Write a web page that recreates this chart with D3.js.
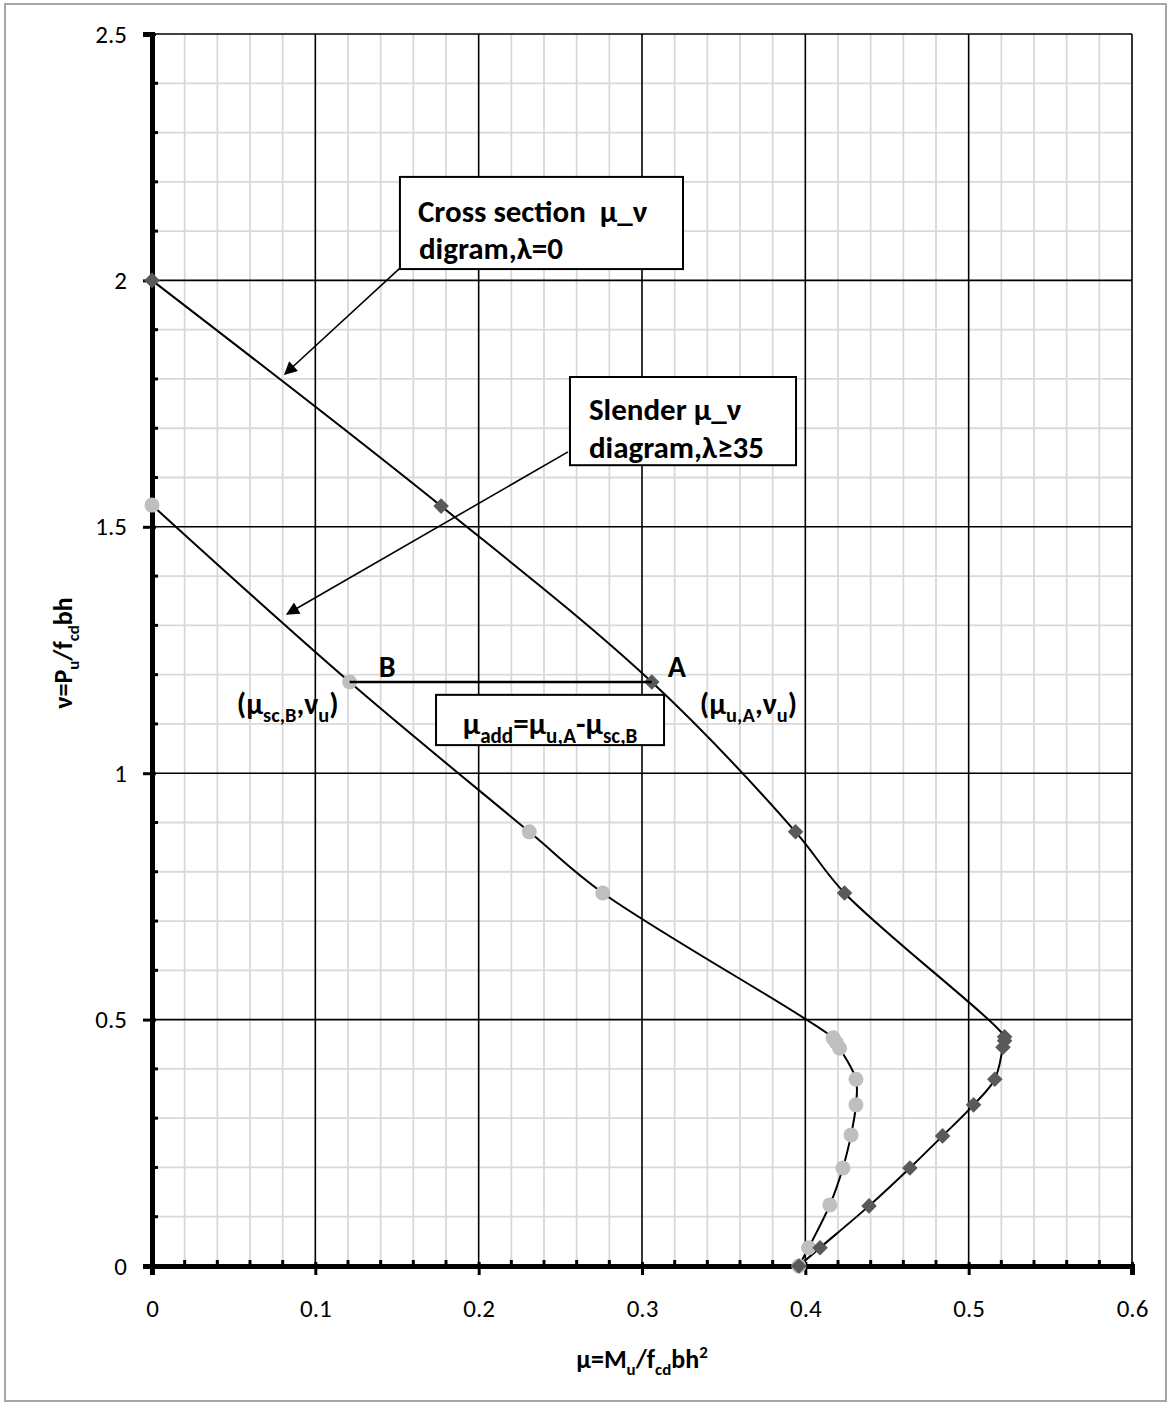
<!DOCTYPE html>
<html><head><meta charset="utf-8">
<script src="https://cdn.jsdelivr.net/npm/d3@7"></script>
<style>
body{margin:0;background:#fff;}
svg{display:block;font-family:Carlito,Lato,"Open Sans",sans-serif;}
</style></head><body>
<svg id="chart" width="1172" height="1406"></svg>
<script>
// μ–ν interaction diagram: cross-section curve (λ=0) and slender column curve (λ≥35)
const crossMu = [0, 0.177, 0.306, 0.394, 0.424, 0.522, 0.522, 0.521, 0.516, 0.503, 0.484, 0.464, 0.439, 0.409, 0.396];
const crossNu = [2.0, 1.542, 1.185, 0.881, 0.757, 0.465, 0.457, 0.444, 0.379, 0.327, 0.264, 0.199, 0.122, 0.037, 0];
const slenderMu = [0, 0.121, 0.231, 0.276, 0.417, 0.419, 0.421, 0.431, 0.431, 0.428, 0.423, 0.415, 0.402, 0.396];
const slenderNu = [1.544, 1.185, 0.881, 0.757, 0.463, 0.453, 0.442, 0.379, 0.327, 0.266, 0.199, 0.124, 0.037, 0];
const xTickValues = [0, 0.1, 0.2, 0.3, 0.4, 0.5, 0.6];
const xTickLabels = ["0", "0.1", "0.2", "0.3", "0.4", "0.5", "0.6"];
const yTickValues = [0, 0.5, 1, 1.5, 2, 2.5];
const yTickLabels = ["0", "0.5", "1", "1.5", "2", "2.5"];
// Points A (cross section) and B (slender) at the same axial load
const idxA = 2, idxB = 1;

const svg = d3.select("#chart");
const W = 1172, H = 1406;
const x = d3.scaleLinear().domain([0, 0.6]).range([152, 1132]);
const y = d3.scaleLinear().domain([0, 2.5]).range([1266, 34]);

svg.append("rect").attr("width", W).attr("height", H).attr("fill", "#fff");
svg.append("rect").attr("x", 5).attr("y", 4).attr("width", 1161).attr("height", 1397)
  .attr("fill", "none").attr("stroke", "#a6a6a6").attr("stroke-width", 2);

// grid
const minorX = d3.range(0, 0.6001, 0.02).filter(v => Math.abs(v * 10 - Math.round(v * 10)) > 1e-6);
const minorY = d3.range(0, 2.5001, 0.1).filter(v => Math.abs(v * 2 - Math.round(v * 2)) > 1e-6);
const grid = svg.append("g");
grid.selectAll(".mx").data(minorX).join("line")
  .attr("x1", d => x(d)).attr("x2", d => x(d)).attr("y1", y(0)).attr("y2", y(2.5))
  .attr("stroke", "#d9d9d9").attr("stroke-width", 1.8);
grid.selectAll(".my").data(minorY).join("line")
  .attr("x1", x(0)).attr("x2", x(0.6)).attr("y1", d => y(d)).attr("y2", d => y(d))
  .attr("stroke", "#d9d9d9").attr("stroke-width", 1.8);
grid.selectAll(".gx").data(xTickValues.slice(1)).join("line")
  .attr("x1", d => x(d)).attr("x2", d => x(d)).attr("y1", y(0)).attr("y2", y(2.5))
  .attr("stroke", "#000").attr("stroke-width", 1.6);
grid.selectAll(".gy").data(yTickValues.slice(1)).join("line")
  .attr("x1", x(0)).attr("x2", x(0.6)).attr("y1", d => y(d)).attr("y2", d => y(d))
  .attr("stroke", "#000").attr("stroke-width", 1.6);

// axes
const ax = svg.append("g");
ax.selectAll(".tmx").data(minorX).join("line")
  .attr("x1", d => x(d)).attr("x2", d => x(d)).attr("y1", y(0)).attr("y2", y(0) - 6)
  .attr("stroke", "#000").attr("stroke-width", 3);
ax.selectAll(".tmy").data(minorY).join("line")
  .attr("x1", x(0)).attr("x2", x(0) + 6).attr("y1", d => y(d)).attr("y2", d => y(d))
  .attr("stroke", "#000").attr("stroke-width", 3);

const xAxis = d3.axisBottom(x).tickValues(xTickValues).tickFormat((d, i) => xTickLabels[i])
  .tickSize(9).tickPadding(24);
const gx = svg.append("g").attr("transform", `translate(0,${y(0)})`).call(xAxis);
const yAxis = d3.axisLeft(y).tickValues(yTickValues).tickFormat((d, i) => yTickLabels[i])
  .tickSize(9).tickPadding(16);
const gy = svg.append("g").attr("transform", `translate(${x(0)},0)`).call(yAxis);
[gx, gy].forEach(g => {
  g.select(".domain").attr("stroke", "#000").attr("stroke-width", 5);
  g.selectAll(".tick line").attr("stroke", "#000").attr("stroke-width", 3);
  g.selectAll(".tick text").attr("fill", "#000").style("font-size", "25px")
    .style("font-family", "Carlito,Lato,sans-serif");
});
gx.selectAll(".tick line").attr("y1", -4);
gy.selectAll(".tick line").attr("x1", 4);

// series
const line = d3.line().x(d => x(d[0])).y(d => y(d[1])).curve(d3.curveCatmullRom.alpha(0.5));
const cross = crossMu.map((m, i) => [m, crossNu[i]]);
const slender = slenderMu.map((m, i) => [m, slenderNu[i]]);
svg.append("path").datum(slender).attr("d", line).attr("fill", "none")
  .attr("stroke", "#000").attr("stroke-width", 2);
svg.append("path").datum(cross).attr("d", line).attr("fill", "none")
  .attr("stroke", "#000").attr("stroke-width", 2);
svg.selectAll(".pc").data(slender).join("circle")
  .attr("cx", d => x(d[0])).attr("cy", d => y(d[1])).attr("r", 7.5).attr("fill", "#bfbfbf");
svg.selectAll(".pd").data(cross).join("path")
  .attr("transform", d => `translate(${x(d[0])},${y(d[1])}) rotate(45)`)
  .attr("d", "M-5.5,-5.5H5.5V5.5H-5.5Z").attr("fill", "#595959");

// horizontal link B → A
const A = cross[idxA], B = slender[idxB];
svg.append("line").attr("x1", x(B[0])).attr("x2", x(A[0])).attr("y1", y(A[1])).attr("y2", y(A[1]))
  .attr("stroke", "#000").attr("stroke-width", 2.5);

// rich text helper: parts = [text, mode] with mode "" | "sub" | "sup"
function rich(g, px, py, parts, size, anchor, subScale) {
  const k = subScale || 0.65;
  const t = g.append("text").attr("x", px).attr("y", py).attr("font-weight", "bold")
    .attr("font-size", size).attr("text-anchor", anchor || "start").attr("fill", "#000");
  let shift = 0;
  parts.forEach(([s, mode]) => {
    const target = mode === "sub" ? size * 0.28 : mode === "sup" ? -size * 0.38 : 0;
    t.append("tspan").attr("dy", target - shift)
      .attr("font-size", mode ? size * k : size).text(s);
    shift = target;
  });
  return t;
}

const ann = svg.append("g");
ann.append("text").attr("x", x(B[0]) + 29).attr("y", y(B[1]) - 5).attr("font-weight", "bold")
  .attr("font-size", 30).text("B");
ann.append("text").attr("x", x(A[0]) + 16).attr("y", y(A[1]) - 5).attr("font-weight", "bold")
  .attr("font-size", 30).text("A");
rich(ann, x(B[0]) - 11, y(B[1]) + 32, [["(μ", ""], ["sc,B", "sub"], [",ν", ""], ["u", "sub"], [")", ""]], 30, "end", 0.68);
rich(ann, x(A[0]) + 48, y(A[1]) + 32, [["(μ", ""], ["u,A", "sub"], [",ν", ""], ["u", "sub"], [")", ""]], 30, "start", 0.68);

// text boxes
function box(x0, x1, y0, y1) {
  ann.append("rect").attr("x", x(x0)).attr("y", y(y0)).attr("width", x(x1) - x(x0))
    .attr("height", y(y1) - y(y0)).attr("fill", "#fff").attr("stroke", "#000").attr("stroke-width", 2);
}
box(0.1518, 0.3251, 2.210, 2.023);
ann.append("text").attr("x", x(0.1518) + 18).attr("y", y(2.210) + 45).attr("font-weight", "bold")
  .attr("font-size", 31).attr("xml:space", "preserve").text("Cross section  μ_ν");
ann.append("text").attr("x", x(0.1518) + 19).attr("y", y(2.210) + 82).attr("font-weight", "bold")
  .attr("font-size", 31).text("digram,λ=0");

box(0.2559, 0.3943, 1.804, 1.625);
ann.append("text").attr("x", x(0.2559) + 19).attr("y", y(1.804) + 43).attr("font-weight", "bold")
  .attr("font-size", 31).text("Slender μ_ν");
ann.append("text").attr("x", x(0.2559) + 19).attr("y", y(1.804) + 81).attr("font-weight", "bold")
  .attr("font-size", 31).text("diagram,λ≥35");

box(0.1739, 0.3135, 1.159, 1.057);
rich(ann, (x(0.1739) + x(0.3135)) / 2, y(1.159) + 39,
  [["μ", ""], ["add", "sub"], ["=μ", ""], ["u,A", "sub"], ["-μ", ""], ["sc,B", "sub"]], 31, "middle", 0.68);

// arrows
const defs = svg.append("defs");
defs.append("marker").attr("id", "arrow").attr("viewBox", "0 0 10 10").attr("refX", 9).attr("refY", 5)
  .attr("orient", "auto").attr("markerUnits", "userSpaceOnUse")
  .attr("markerWidth", 16).attr("markerHeight", 13)
  .append("path").attr("d", "M0,0L10,5L0,10Z").attr("fill", "#000");
[[0.1518, 2.025, 0.0814, 1.810], [0.2547, 1.652, 0.0827, 1.323]].forEach(([a, b, c, d]) => {
  ann.append("line").attr("x1", x(a)).attr("y1", y(b)).attr("x2", x(c)).attr("y2", y(d))
    .attr("stroke", "#000").attr("stroke-width", 1.6).attr("marker-end", "url(#arrow)");
});

// axis titles
rich(svg, (x(0) + x(0.6)) / 2, 1368, [["μ=M", ""], ["u", "sub"], ["/f", ""], ["cd", "sub"], ["bh", ""], ["2", "sup"]], 26, "middle");
const yt = svg.append("g").attr("transform", "translate(72,653) rotate(-90)");
rich(yt, 0, 0, [["ν=P", ""], ["u", "sub"], ["/f", ""], ["cd", "sub"], ["bh", ""]], 26, "middle");
</script>
</body></html>
